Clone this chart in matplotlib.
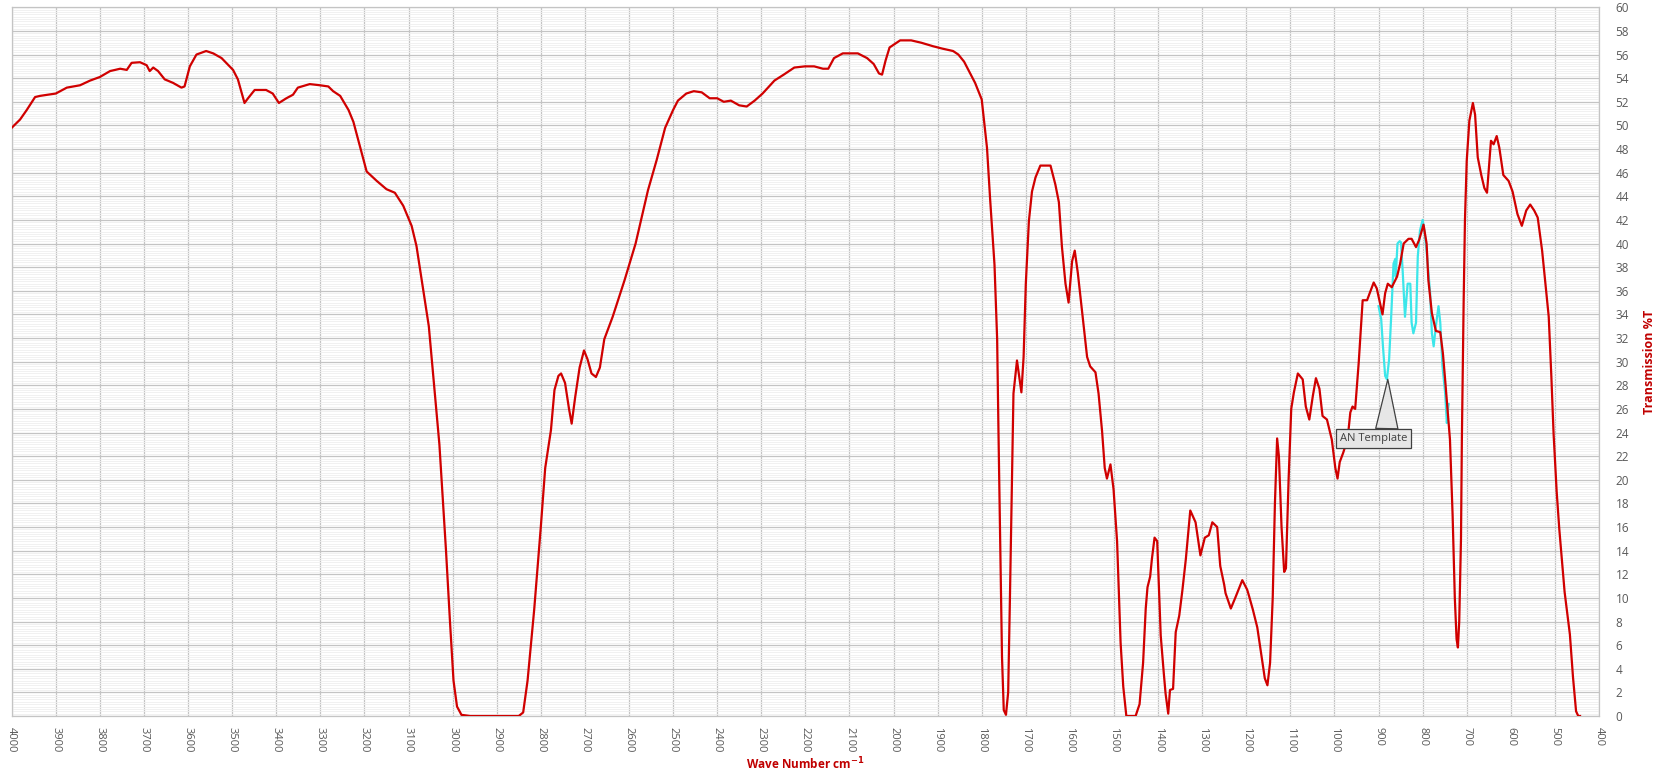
import matplotlib
matplotlib.use("Agg")
import matplotlib.pyplot as plt
from matplotlib.ticker import MultipleLocator

# Espectro principal (numero de onda cm-1, transmision %T)
onda = [4000, 3981, 3966, 3947, 3936, 3900, 3875, 3845, 3822, 3800, 3777, 3754, 3739, 3728,
        3709, 3694, 3687, 3679, 3668, 3653, 3634, 3615, 3608, 3596, 3581, 3559, 3543, 3524,
        3498, 3487, 3472, 3464, 3449, 3423, 3408, 3394, 3377, 3362, 3351, 3324, 3301, 3282,
        3271, 3255, 3236, 3225, 3210, 3195, 3172, 3150, 3131, 3112, 3093, 3082, 3054, 3030,
        3015, 3006, 2998, 2990, 2980, 2960, 2850, 2840, 2830, 2815, 2800, 2790, 2777, 2769,
        2760, 2754, 2745, 2736, 2730, 2722, 2712, 2702, 2694, 2685, 2675, 2666, 2656, 2637,
        2610, 2585, 2557, 2537, 2518, 2500, 2489, 2470, 2453, 2435, 2417, 2400, 2385, 2369,
        2350, 2333, 2315, 2297, 2270, 2249, 2225, 2201, 2180, 2160, 2148, 2135, 2115, 2081,
        2060, 2045, 2033, 2026, 2018, 2009, 1985, 1960, 1937, 1910, 1889, 1865, 1853, 1840,
        1829, 1815, 1800, 1788, 1781, 1771, 1765, 1762, 1758, 1754, 1750, 1745, 1740, 1736,
        1731, 1728, 1720, 1714, 1710, 1705, 1700, 1693, 1686, 1678, 1667, 1656, 1644, 1633,
        1625, 1618, 1610, 1603, 1595, 1589, 1582, 1572, 1561, 1554, 1542, 1535, 1527, 1521,
        1516, 1508, 1501, 1493, 1489, 1485, 1479, 1472, 1451, 1442, 1434, 1428, 1424, 1418,
        1414, 1408, 1402, 1394, 1387, 1383, 1377, 1373, 1366, 1360, 1352, 1345, 1337, 1327,
        1315, 1304, 1294, 1285, 1277, 1266, 1259, 1250, 1247, 1235, 1225, 1209, 1198, 1194,
        1185, 1175, 1165, 1158, 1152, 1146, 1140, 1135, 1130, 1126, 1120, 1114, 1110, 1104,
        1098, 1092, 1083, 1072, 1065, 1057, 1049, 1042, 1034, 1027, 1017, 1006, 998, 993,
        988, 980, 970, 964, 959, 953, 945, 936, 926, 919, 911, 904, 898, 891, 885, 879, 870,
        858, 851, 843, 832, 825, 815, 808, 798, 791, 787, 779, 770, 760, 754, 749, 743, 738,
        732, 727, 723, 720, 717, 713, 711, 707, 704, 700, 694, 686, 681, 675, 667, 660, 654,
        651, 645, 639, 632, 626, 617, 605, 596, 585, 575, 565, 556, 547, 539, 529, 520, 514,
        508, 503, 496, 490, 478, 466, 459, 452, 447, 443]
trans = [49.8, 50.5, 51.3, 52.4, 52.5, 52.7, 53.2, 53.4, 53.8, 54.1, 54.6, 54.8, 54.7, 55.3,
         55.35, 55.1, 54.6, 54.9, 54.6, 53.9, 53.6, 53.2, 53.3, 55.0, 56.0, 56.3, 56.1, 55.7,
         54.7, 53.9, 51.9, 52.3, 53.0, 53.0, 52.7, 51.9, 52.3, 52.6, 53.2, 53.5, 53.4, 53.3,
         52.9, 52.5, 51.3, 50.3, 48.2, 46.1, 45.3, 44.6, 44.3, 43.2, 41.5, 39.8, 33.0, 23.0,
         14.0, 8.0, 3.0, 0.8, 0.1, 0.0, 0.0, 0.3, 3.0, 9.0, 16.0, 21.0, 24.2, 27.6,
         28.8, 29.0, 28.2, 26.0, 24.75, 27.0, 29.5, 30.95, 30.2, 29.0, 28.7, 29.5, 31.9, 33.8,
         36.9, 40.0, 44.5, 47.1, 49.8, 51.3, 52.1, 52.7, 52.9, 52.8, 52.3, 52.3, 52.0, 52.1,
         51.7, 51.6, 52.1, 52.7, 53.8, 54.3, 54.9, 55.0, 55.0, 54.8, 54.8, 55.7, 56.1, 56.1,
         55.7, 55.2, 54.4, 54.3, 55.5, 56.6, 57.2, 57.2, 57.0, 56.7, 56.5, 56.3, 56.0, 55.4,
         54.6, 53.6, 52.2, 48.1, 43.8, 38.2, 31.9, 24.1, 14.8, 5.0, 0.5, 0.1, 2.0, 10.0,
         21.0, 27.3, 30.1, 28.5, 27.4, 30.4, 36.6, 41.9, 44.4, 45.6, 46.6, 46.6, 46.6, 45.0,
         43.5, 39.7, 36.6, 35.0, 38.5, 39.4, 37.5, 34.1, 30.4, 29.6, 29.1, 27.3, 24.1, 21.0,
         20.1, 21.3, 19.2, 14.8, 10.5, 6.2, 2.5, 0.0, 0.0, 1.0, 4.5, 9.1, 10.9, 11.8,
         13.3, 15.1, 14.8, 6.8, 3.6, 1.9, 0.2, 2.2, 2.3, 7.1, 8.5, 10.6, 13.3, 17.4,
         16.4, 13.6, 15.1, 15.3, 16.4, 16.0, 12.7, 11.1, 10.4, 9.1, 10.0, 11.5, 10.7, 10.2,
         9.0, 7.5, 5.0, 3.2, 2.6, 4.5, 10.0, 18.0, 23.5, 22.0, 16.0, 12.2, 12.5, 20.0,
         26.0, 27.4, 29.0, 28.5, 26.2, 25.1, 27.1, 28.6, 27.7, 25.4, 25.1, 23.4, 21.0, 20.1,
         21.5, 22.3, 23.5, 25.7, 26.2, 26.0, 29.9, 35.2, 35.2, 35.9, 36.7, 36.2, 35.2, 34.0, 35.8, 36.6, 36.3,
         37.2, 38.3, 40.0, 40.4, 40.4, 39.7, 40.3, 41.6, 40.0, 36.9, 34.1, 32.6, 32.5, 30.7, 28.5, 25.7, 23.4,
         17.0, 10.0, 6.5, 5.8, 8.0, 15.0, 23.4, 35.0, 42.0, 47.0, 50.4, 51.9, 50.9, 47.3, 45.8, 44.7, 44.3,
         45.8, 48.7, 48.4, 49.1, 48.1, 45.8, 45.3, 44.4, 42.5, 41.5, 42.8, 43.3, 42.8, 42.2, 39.4, 36.0, 33.8,
         28.7, 23.9, 19.0, 15.8, 10.5, 6.9, 3.3, 0.4, 0.0, 0.0]

# Plantilla AN (tramo cian)
onda_an = [900, 894, 890, 885, 881, 876, 871, 866, 862, 861, 857, 852, 849, 845, 840, 834,
           828, 825, 821, 815, 811, 806, 800, 796, 791, 783, 779, 775, 770, 764, 760, 755,
           749, 745, 743, 741]
trans_an = [34.7, 33.6, 31.3, 28.8, 28.5, 30.2, 34.1, 38.3, 38.7, 37.2, 40.0, 40.2, 40.1,
            37.5, 33.8, 36.6, 36.6, 33.3, 32.4, 33.3, 38.9, 41.1, 42.0, 41.1, 39.4, 35.8,
            32.4, 31.3, 33.0, 34.7, 33.3, 29.6, 27.4, 24.8, 25.9, 26.4]

etiquetas_x = list(range(4000, 399, -100))

fig = plt.figure(figsize=(16.6, 7.77), dpi=100)
ax = fig.add_axes([0.00705, 0.0785, 0.9562, 0.9121])

ax.plot(onda, trans, color="#d00000", lw=1.6, zorder=3, solid_joinstyle="round")
ax.plot(onda_an, trans_an, color="#3ce6ea", lw=1.6, zorder=2, solid_joinstyle="round")

ax.set_xlim(4000, 400)
ax.set_ylim(0, 60)
ax.set_xticks(etiquetas_x)
ax.set_xticklabels([str(v) for v in etiquetas_x], rotation=270, fontsize=8,
                   color="#595959", family="Open Sans")
ax.yaxis.set_major_locator(MultipleLocator(2))
ax.yaxis.set_minor_locator(MultipleLocator(0.2))
ax.yaxis.tick_right()
ax.yaxis.set_label_position("right")
for t in ax.get_yticklabels():
    t.set_fontsize(8.5)
    t.set_color("#595959")
    t.set_family("Open Sans")
ax.tick_params(axis="both", which="both", length=0)
ax.tick_params(axis="y", pad=12)
ax.tick_params(axis="x", pad=8)

# Rejilla
ax.grid(which="major", color="#c4c4c4", lw=0.9, zorder=0)
ax.grid(which="minor", axis="y", color="#efefef", lw=0.6, zorder=0)
ax.set_axisbelow(True)
for s in ax.spines.values():
    s.set_color("#c4c4c4")
    s.set_linewidth(0.9)

ax.set_xlabel("Wave Number cm$^{\\mathbf{-1}}$", color="#c00000", fontsize=8.5,
              fontweight="bold", family="Open Sans", labelpad=2)
ax.set_ylabel("Transmission %T", color="#c00000", fontsize=9, fontweight="bold",
              family="Open Sans", labelpad=10)

# Llamada de la plantilla
ax.annotate("AN Template", xy=(879, 28.5), xytext=(912, 23.5),
            ha="center", va="center", fontsize=8, color="#404040", family="Open Sans",
            bbox=dict(boxstyle="square,pad=0.35", fc="#e6e6e6", ec="#404040", lw=0.9),
            arrowprops=dict(arrowstyle="wedge,tail_width=2.0,shrink_factor=0.5",
                            fc="#e6e6e6", ec="#404040", lw=0.9,
                            relpos=(0.7, 1.0), shrinkA=0, shrinkB=0),
            zorder=5)

fig.savefig("out.png", dpi=100)
